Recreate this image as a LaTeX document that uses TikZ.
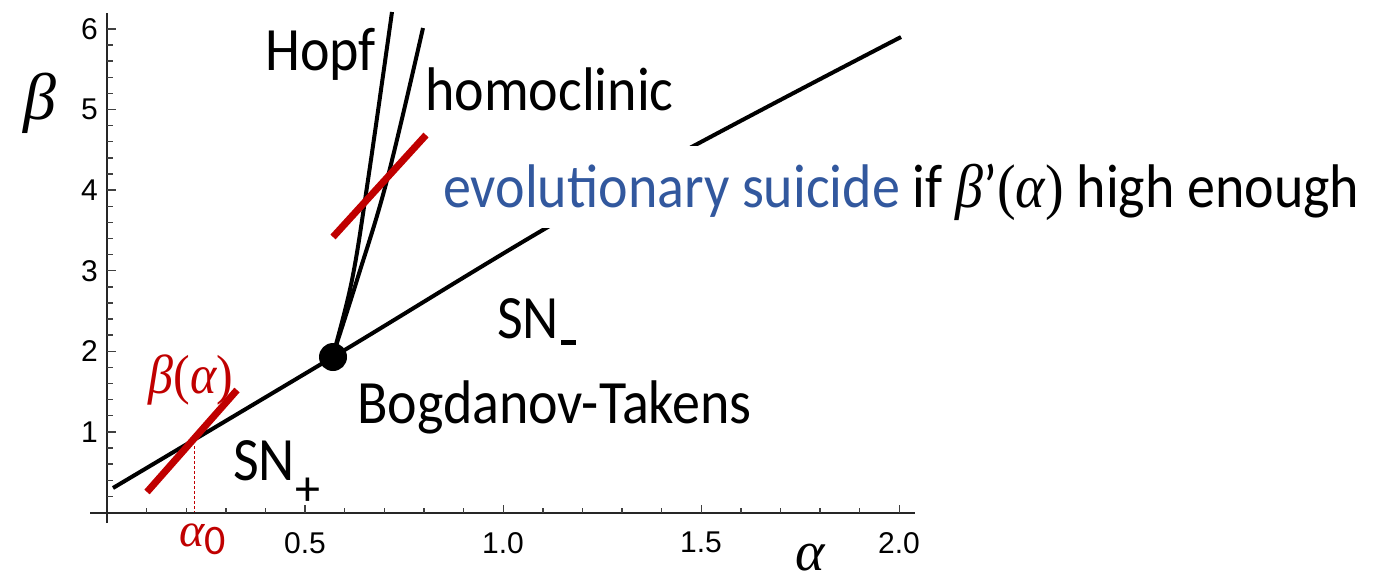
\documentclass[tikz,border=0pt]{standalone}
\usepackage{fontspec}
\setmainfont{Carlito}
\newfontfamily\tickfont{Liberation Sans}
\newfontfamily\gk{Liberation Serif}
\definecolor{esred}{RGB}{192,0,0}
\definecolor{esblue}{RGB}{50,88,158}
\newcommand{\tall}[1]{\scalebox{1}[1.1]{#1}}
\begin{document}
\begin{tikzpicture}[x=1pt,y=-1pt,
  curve/.style={line width=4pt,black,line join=round},
  redline/.style={line width=7pt,esred},
  axisline/.style={line width=2pt,black!85},
  tickline/.style={line width=1.4pt,black!75},
  lab/.style={font=\fontsize{56}{60}\selectfont,inner sep=0pt},
  ticklab/.style={font=\tickfont\fontsize{30}{32}\selectfont,inner sep=0pt},
  greek/.style={font=\gk\itshape\fontsize{#1}{#1}\selectfont,inner sep=0pt}
]
\useasboundingbox (0,0) rectangle (1378,582);

% axes
\coordinate (xa0) at (90,512.5);
\coordinate (xa1) at (915,512.5);
\coordinate (ya0) at (107,523);
\coordinate (ya1) at (107,13);
\draw[axisline] (xa0) -- (xa1);
\draw[axisline] (ya0) -- (ya1);
\foreach \i in {1,...,20} \draw[tickline] ({107+39.62*\i},512.5) -- ++(0,-5);
\foreach \i in {5,10,15,20} \draw[tickline] ({107+39.62*\i},512.5) -- ++(0,-8);
\foreach \i in {1,...,30} \draw[tickline] (107,{512.5-16.12*\i}) -- ++(6,0);
\foreach \i in {5,10,...,30} \draw[tickline] (107,{512.5-16.12*\i}) -- ++(9,0);
\foreach \v in {1,...,6} \node[ticklab,anchor=east] (yl\v) at (98,{512.5-80.6*\v}) {\v};
\node[ticklab,anchor=north] (xl1) at (305,532) {0.5};
\node[ticklab,anchor=north] (xl2) at (503,532) {1.0};
\node[ticklab,anchor=north] (xl3) at (701,532) {1.5};
\node[ticklab,anchor=north] (xl4) at (899,532) {2.0};
\node[greek=66] (beta) at (40,103) {β};
\node[greek=56] (alpha) at (810,558) {α};

% bifurcation curves
\node[circle,fill=black,inner sep=0pt,minimum size=28pt] (bt) at (333,357) {};
\draw[curve] plot[smooth,tension=0.6] coordinates {(113,488) (333,357) (600,197) (901,37)};
\draw[curve] plot[smooth,tension=0.6] coordinates {(333,355) (352,280) (368,180) (392,12)};
\draw[curve] plot[smooth,tension=0.6] coordinates {(333,355) (357,280) (387,180) (423,28)};

% red tangent lines
\coordinate (r1a) at (333,237);
\coordinate (r1b) at (426,135);
\draw[redline] (r1a) -- (r1b);
\coordinate (r2a) at (147,492);
\coordinate (r2b) at (237,390);
\draw[redline] (r2a) -- (r2b);
\coordinate (a0top) at (194,446);
\coordinate (a0bot) at (194,512);
\draw[esred,line width=1pt,dash pattern=on 3pt off 2pt] (a0top) -- (a0bot);

% white box behind the sentence
\fill[white] (435,146) rectangle (1378,228);
\node[lab,anchor=base west] (es) at (443,207)
  {\tall{\textcolor{esblue}{evolutionary suicide} if {\gk\itshape\fontsize{56}{60}\selectfont β}’{\gk\fontsize{56}{60}\selectfont(}{\gk\itshape\fontsize{56}{60}\selectfont α}{\gk\fontsize{56}{60}\selectfont)} high enough}};

% labels
\node[lab,anchor=base west] (hopf) at (265,70) {\tall{Hopf}};
\node[lab,anchor=base west] (homo) at (425,110) {\tall{homoclinic}};
\node[lab,anchor=base west] (snm) at (497,338) {\tall{SN}\hspace{2pt}\raisebox{-7pt}{\rule{15pt}{5pt}}};
\node[lab,anchor=base west] (snp) at (233,480) {\tall{SN}\raisebox{-25pt}{\fontsize{50}{52}\selectfont +}};
\node[lab,anchor=base west] (btl) at (357,423) {\tall{Bogdanov-Takens}};
\node[inner sep=0pt,text=esred] (ba) at (191,380)
  {\tall{{\gk\itshape\fontsize{50}{54}\selectfont β}{\gk\fontsize{50}{54}\selectfont(}{\gk\itshape\fontsize{50}{54}\selectfont α}{\gk\fontsize{50}{54}\selectfont)}}};
\node[inner sep=0pt,text=esred,anchor=base west] (a0) at (179,546)
  {{\gk\itshape\fontsize{48}{50}\selectfont α}\raisebox{-8pt}{\fontsize{42}{44}\selectfont 0}};
\end{tikzpicture}
\end{document}
